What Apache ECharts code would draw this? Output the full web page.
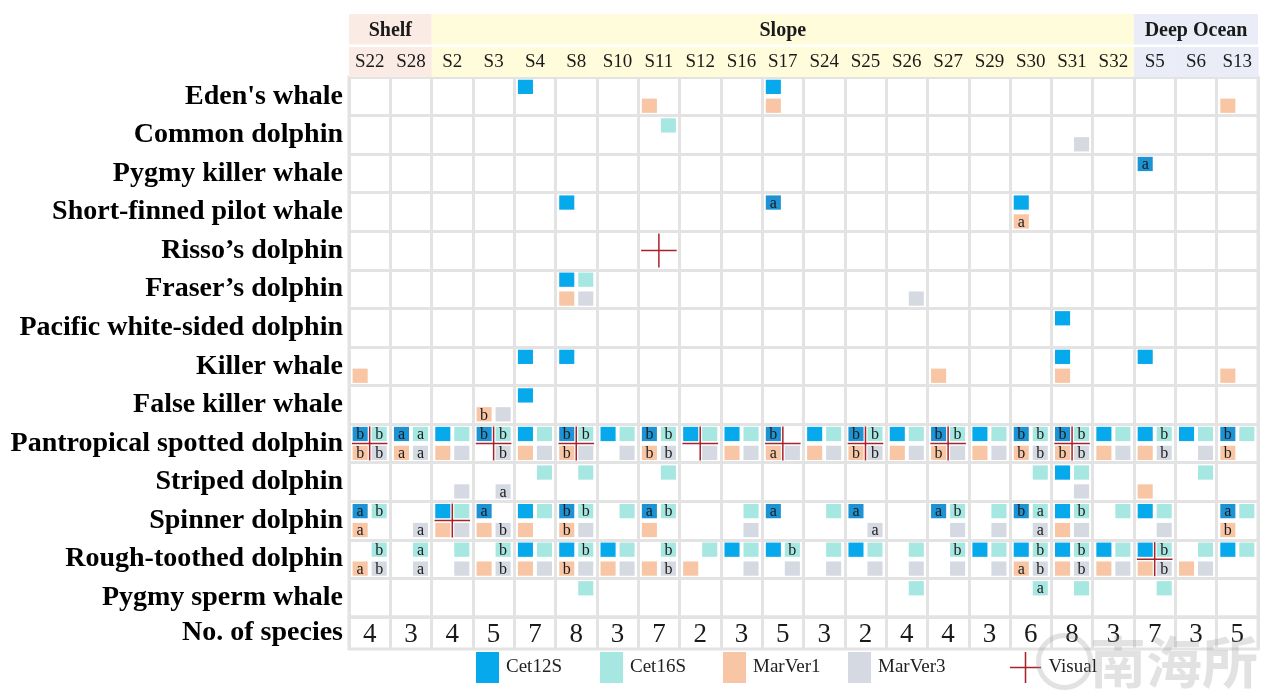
<!DOCTYPE html>
<html><head><meta charset="utf-8">
<script src="https://cdn.jsdelivr.net/npm/echarts@6/dist/echarts.min.js"></script>
<style>html,body{margin:0;padding:0;background:#fff;}#c{width:1270px;height:700px;}</style>
</head><body><div id="c"></div>
<script>
const stations = ['S22','S28','S2','S3','S4','S8','S10','S11','S12','S16','S17','S24','S25','S26','S27','S29','S30','S31','S32','S5','S6','S13'];
const regions = [['Shelf','S22','S28'],['Slope','S2','S32'],['Deep Ocean','S5','S13']];
const species = ["Eden's whale","Common dolphin","Pygmy killer whale","Short-finned pilot whale","Risso’s dolphin","Fraser’s dolphin","Pacific white-sided dolphin","Killer whale","False killer whale","Pantropical spotted dolphin","Striped dolphin","Spinner dolphin","Rough-toothed dolphin","Pygmy sperm whale"];
const speciesCounts = [4,3,4,5,7,8,3,7,2,3,5,3,2,4,4,3,6,8,3,7,3,5];

const cet12S = [
  ["Eden's whale","S4 S17"],
  ["Pygmy killer whale","S5:a"],
  ["Short-finned pilot whale","S8 S17:a S30"],
  ["Fraser’s dolphin","S8"],
  ["Pacific white-sided dolphin","S31"],
  ["Killer whale","S4 S8 S31 S5"],
  ["False killer whale","S4"],
  ["Pantropical spotted dolphin","S22:b S28:a S2 S3:b S4 S8:b S10 S11:b S12 S16 S17:b S24 S25:b S26 S27:b S29 S30:b S31:b S32 S5 S6 S13:b"],
  ["Striped dolphin","S31"],
  ["Spinner dolphin","S22:a S2 S3:a S4 S8:b S11:a S17:a S25:a S27:a S30:b S31 S5 S13:a"],
  ["Rough-toothed dolphin","S4 S8 S10 S16 S17 S25 S29 S30 S31 S32 S5 S13"]
];
const cet16S = [
  ["Common dolphin","S11"],
  ["Fraser’s dolphin","S8"],
  ["Pantropical spotted dolphin","S22:b S28:a S2 S3:b S4 S8:b S10 S11:b S12 S16 S24 S25:b S26 S27:b S29 S30:b S31:b S32 S5:b S6 S13"],
  ["Striped dolphin","S4 S8 S11 S30 S31 S6"],
  ["Spinner dolphin","S22:b S2 S4 S8:b S10 S11:b S16 S24 S27:b S29 S30:a S31:b S32 S5 S13"],
  ["Rough-toothed dolphin","S22:b S28:a S2 S3:b S4 S8:b S10 S11:b S12 S16 S17:b S24 S25 S26 S27:b S29 S30:b S31:b S32 S5:b S6 S13"],
  ["Pygmy sperm whale","S8 S26 S30:a S31 S5"]
];
const marVer1 = [
  ["Eden's whale","S11 S17 S13"],
  ["Short-finned pilot whale","S30:a"],
  ["Fraser’s dolphin","S8"],
  ["Killer whale","S22 S27 S31 S13"],
  ["False killer whale","S3:b"],
  ["Pantropical spotted dolphin","S22:b S28:a S2 S4 S8:b S11:b S16 S17:a S24 S25:b S26 S27:b S29 S30:b S31:b S32 S5 S13:b"],
  ["Striped dolphin","S5"],
  ["Spinner dolphin","S22:a S2 S3 S4 S8:b S11 S31 S13:b"],
  ["Rough-toothed dolphin","S22:a S3 S4 S8:b S10 S11 S12 S30:a S31 S32 S5 S6"]
];
const marVer3 = [
  ["Common dolphin","S31"],
  ["Fraser’s dolphin","S8 S26"],
  ["False killer whale","S3"],
  ["Pantropical spotted dolphin","S22:b S28:a S2 S3:b S4 S8 S10 S11:b S12 S16 S17 S24 S25:b S26 S27 S29 S30:b S31:b S32 S5:b S6"],
  ["Striped dolphin","S2 S3:a S31"],
  ["Spinner dolphin","S28:a S2 S3:b S8 S16 S25:a S27 S29 S30:a S31 S5"],
  ["Rough-toothed dolphin","S22:b S28:a S2 S3:b S4 S8 S10 S11:b S16 S17 S24 S25 S26 S27 S29 S30:b S31:b S32 S5:b S6"]
];
const visual = [
  ["Risso’s dolphin","S11"],
  ["Pantropical spotted dolphin","S22 S3 S8 S12 S17 S25 S27 S31"],
  ["Spinner dolphin","S2"],
  ["Rough-toothed dolphin","S5"]
];

const FONT = 'Liberation Serif';
const GRIDC = '#e3e3e3';
const regionColors = {'Shelf':'#fbebe5','Slope':'#fffcdc','Deep Ocean':'#eaecf7'};

function parse(list){
  const out = [];
  list.forEach(([sp, str]) => {
    str.split(' ').forEach(tok => {
      const [st, lt] = tok.split(':');
      out.push([stations.indexOf(st), species.indexOf(sp), lt || '']);
    });
  });
  return out;
}

function squareSeries(name, list, dx, dy, color, labColor){
  const pts = parse(list);
  return {
    type:'custom', name, xAxisIndex:1, yAxisIndex:1, z:3,
    itemStyle:{color},
    encode:{x:0,y:1},
    data: pts.map(p => [p[0], p[1]]),
    renderItem(params, api){
      const c = api.coord([api.value(0), api.value(1)]);
      const s = api.size([1,1]);
      const w = s[0]*0.365, h = s[1]*0.37;
      const cx = c[0] + dx*s[0]*0.23, cy = c[1] + dy*s[1]*0.245;
      const letter = pts[params.dataIndex][2];
      return {type:'group', children:[
        {type:'rect', shape:{x:cx-w/2, y:cy-h/2, width:w, height:h}, style:{fill: (letter && labColor) ? labColor : color}},
        {type:'text', style:{text:letter, x:cx, y:cy+1, align:'center', verticalAlign:'middle', fontSize:16, fontFamily:FONT, fill:'#1a1a1a'}}
      ]};
    }
  };
}

const visPts = parse(visual);
const visualSeries = {
  type:'custom', name:'Visual', xAxisIndex:1, yAxisIndex:1, z:5,
  itemStyle:{color:'#a8222c'},
  encode:{x:0,y:1},
  data: visPts.map(p => [p[0], p[1]]),
  renderItem(params, api){
    const c = api.coord([api.value(0), api.value(1)]);
    const s = api.size([1,1]);
    const hw = s[0]*0.43, hh = s[1]*0.44;
    const st = {stroke:'#a8222c', lineWidth:1.5};
    return {type:'group', children:[
      {type:'line', shape:{x1:c[0]-hw, y1:c[1], x2:c[0]+hw, y2:c[1]}, style:st},
      {type:'line', shape:{x1:c[0], y1:c[1]-hh, x2:c[0], y2:c[1]+hh}, style:st}
    ]};
  }
};

function regionOf(i){
  for (const r of regions){
    const a = stations.indexOf(r[1]), b = stations.indexOf(r[2]);
    if (i>=a && i<=b) return r[0];
  }
}

const stationHeader = {
  type:'custom', xAxisIndex:0, yAxisIndex:0, silent:true,
  encode:{x:0,y:1},
  data: stations.map((s,i)=>[i,1]),
  renderItem(params, api){
    const c = api.coord([api.value(0), 1]);
    const s = api.size([1,1]);
    return {type:'group', children:[
      {type:'rect', shape:{x:c[0]-s[0]/2, y:c[1]-s[1]/2+1.5, width:s[0]+0.5, height:s[1]-1.5}, style:{fill:regionColors[regionOf(params.dataIndex)]}},
      {type:'text', style:{text:stations[params.dataIndex], x:c[0], y:c[1]+1, align:'center', verticalAlign:'middle', fontSize:19, fontFamily:FONT, fill:'#1a1a1a'}}
    ]};
  }
};
const regionHeader = {
  type:'custom', xAxisIndex:0, yAxisIndex:0, silent:true,
  encode:{x:0,y:1},
  data: regions.map(r => [stations.indexOf(r[1]), 0, stations.indexOf(r[2])]),
  renderItem(params, api){
    const c1 = api.coord([api.value(0), 0]);
    const c2 = api.coord([api.value(2), 0]);
    const s = api.size([1,1]);
    const name = regions[params.dataIndex][0];
    const x0 = c1[0]-s[0]/2, x1 = c2[0]+s[0]/2;
    return {type:'group', children:[
      {type:'rect', shape:{x:x0, y:c1[1]-s[1]/2, width:x1-x0, height:s[1]-1}, style:{fill:regionColors[name]}},
      {type:'text', style:{text:name, x:(x0+x1)/2, y:c1[1]+1, align:'center', verticalAlign:'middle', fontSize:20, fontWeight:'bold', fontFamily:FONT, fill:'#1a1a1a'}}
    ]};
  }
};
const countSeries = {
  type:'custom', xAxisIndex:2, yAxisIndex:2, silent:true,
  encode:{x:0,y:1},
  data: speciesCounts.map((v,i)=>[i,0]),
  renderItem(params, api){
    const c = api.coord([api.value(0), 0]);
    return {type:'text', style:{text:String(speciesCounts[params.dataIndex]), x:c[0], y:c[1]+2, align:'center', verticalAlign:'middle', fontSize:27, fontFamily:FONT, fill:'#1a1a1a'}};
  }
};

const split = {show:true, interval:0, lineStyle:{color:GRIDC, width:3}};
const yLabel = {interval:0, fontFamily:FONT, fontWeight:'bold', fontSize:28, color:'#000', margin:6, padding:[5,0,0,0]};
const legendBase = {top:652, padding:0, itemWidth:23, itemHeight:31, icon:'rect', selectedMode:false, textStyle:{fontFamily:FONT, fontSize:19, color:'#222', padding:[0,0,0,2]}};
const crossIcon = 'path://M0,14.25h30v1.5h-30z M14.25,0h1.5v30h-1.5z';

const option = {
  backgroundColor:'#fff',
  animation:false,
  grid:[
    {left:349, right:12, top:14, height:63},
    {left:349, right:12, top:77, height:540, show:true, borderColor:GRIDC, borderWidth:3},
    {left:349, right:12, top:617, height:32, show:true, borderColor:GRIDC, borderWidth:3}
  ],
  xAxis:[
    {gridIndex:0, type:'category', data:stations, show:false},
    {gridIndex:1, type:'category', data:stations, axisLabel:{show:false}, axisTick:{show:false}, axisLine:{show:false}, splitLine:split},
    {gridIndex:2, type:'category', data:stations, axisLabel:{show:false}, axisTick:{show:false}, axisLine:{show:false}, splitLine:split}
  ],
  yAxis:[
    {gridIndex:0, type:'category', data:['region','station'], inverse:true, show:false},
    {gridIndex:1, type:'category', data:species, inverse:true, axisLabel:yLabel, axisTick:{show:false}, axisLine:{show:false}, splitLine:split},
    {gridIndex:2, type:'category', data:['No. of species'], axisLabel:yLabel, axisTick:{show:false}, axisLine:{show:false}, splitLine:{show:false}}
  ],
  legend:[
    Object.assign({}, legendBase, {left:476, data:['Cet12S']}),
    Object.assign({}, legendBase, {left:600, data:['Cet16S']}),
    Object.assign({}, legendBase, {left:723, data:['MarVer1']}),
    Object.assign({}, legendBase, {left:848, data:['MarVer3']}),
    Object.assign({}, legendBase, {left:1010, itemWidth:32, data:[{name:'Visual', icon:crossIcon}]})
  ],
  graphic:[
    {type:'circle', left:1036, top:633, shape:{r:26}, style:{fill:'none', stroke:'rgba(150,150,150,0.28)', lineWidth:5}, z:100},
    {type:'text', left:1090, top:634, style:{text:'南海所', fontSize:56, fontWeight:'bold', fontFamily:'Noto Sans CJK SC', fill:'rgba(150,150,150,0.28)'}, z:100}
  ],
  series:[
    regionHeader, stationHeader,
    squareSeries('Cet12S', cet12S, -1, -1, '#06a9eb', '#1e93d4'),
    squareSeries('Cet16S', cet16S, 1, -1, '#a7e7e1'),
    squareSeries('MarVer1', marVer1, -1, 1, '#f8c6a4'),
    squareSeries('MarVer3', marVer3, 1, 1, '#d4d9e2'),
    visualSeries,
    countSeries
  ]
};
echarts.init(document.getElementById('c')).setOption(option);
</script></body></html>
